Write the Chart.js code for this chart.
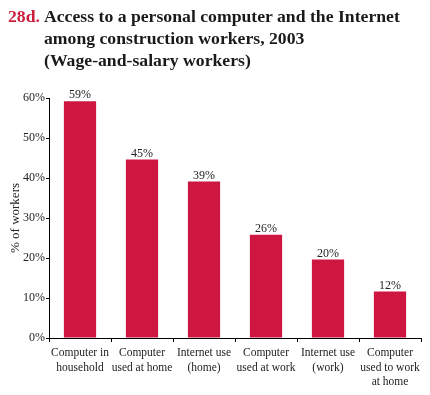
<!DOCTYPE html>
<html>
<head>
<meta charset="utf-8">
<script src="https://cdn.jsdelivr.net/npm/chart.js@4/dist/chart.umd.min.js"></script>
<style>
  html, body { margin: 0; padding: 0; background: #fff; }
  #wrap { position: relative; width: 430px; height: 395px; }
  #c { position: absolute; left: 0; top: 0; }
  .t { position: absolute; font-family: "Liberation Serif", "Times New Roman", serif; font-weight: bold; font-size: 17.7px; color: #1a1a1a; white-space: nowrap; line-height: 22px; }
  #num { left: 8px; top: 5px; color: #cc1f3c; }
  #ttl { left: 44px; top: 5px; }
</style>
</head>
<body>
<div id="wrap">
  <canvas id="c" width="430" height="395"></canvas>
  <div class="t" id="num">28d.</div>
  <div class="t" id="ttl">Access to a personal computer and the Internet<br>among construction workers, 2003<br>(Wage-and-salary workers)</div>
</div>
<script>
const categories = [
  ["Computer in", "household"],
  ["Computer", "used at home"],
  ["Internet use", "(home)"],
  ["Computer", "used at work"],
  ["Internet use", "(work)"],
  ["Computer", "used to work", "at home"]
];
const values = [59.2, 44.6, 39.1, 25.8, 19.6, 11.6];
const valueLabels = ["59%", "45%", "39%", "26%", "20%", "12%"];
const yTicks = [0, 10, 20, 30, 40, 50, 60];

const SERIF = '"Liberation Serif", "Times New Roman", serif';
const TEXT = '#222';

const barLabels = {
  id: 'barLabels',
  afterDatasetsDraw(chart) {
    const ctx = chart.ctx;
    const meta = chart.getDatasetMeta(0);
    ctx.save();
    ctx.font = '12px ' + SERIF;
    ctx.fillStyle = TEXT;
    ctx.textAlign = 'center';
    ctx.textBaseline = 'alphabetic';
    meta.data.forEach((bar, i) => {
      ctx.fillText(valueLabels[i], bar.x, bar.y - 3);
    });
    ctx.restore();
  }
};

new Chart(document.getElementById('c'), {
  type: 'bar',
  data: {
    labels: categories,
    datasets: [{
      data: values,
      backgroundColor: '#cd1640',
      borderWidth: 0,
      categoryPercentage: 1.0,
      barPercentage: 0.52
    }]
  },
  options: {
    responsive: false,
    animation: false,
    devicePixelRatio: 1,
    layout: { padding: { left: 0, right: 9, top: 98, bottom: 0 } },
    plugins: { legend: { display: false }, tooltip: { enabled: false }, title: { display: false } },
    scales: {
      x: {
        grid: { display: true, drawOnChartArea: false, drawTicks: true, tickLength: 4, color: '#000', offset: true },
        border: { display: true, color: '#000', width: 1 },
        ticks: { color: TEXT, font: { family: SERIF, size: 11.5, lineHeight: 1.26 }, padding: 4, maxRotation: 0, autoSkip: false },
        afterFit(scale) { scale.height = 57; }
      },
      y: {
        min: 0, max: 60,
        afterBuildTicks(scale) { scale.ticks = yTicks.map(v => ({ value: v })); },
        grid: { display: true, drawOnChartArea: false, drawTicks: true, tickLength: 3, color: '#000' },
        border: { display: true, color: '#000', width: 1 },
        ticks: { color: TEXT, font: { family: SERIF, size: 12 }, padding: 1, callback: v => v + '%' },
        title: { display: true, text: '% of workers', color: TEXT, font: { family: SERIF, size: 13 }, padding: { top: 8, bottom: 0 } },
        afterFit(scale) { scale.width = 49; }
      }
    }
  },
  plugins: [barLabels]
});
</script>
</body>
</html>
